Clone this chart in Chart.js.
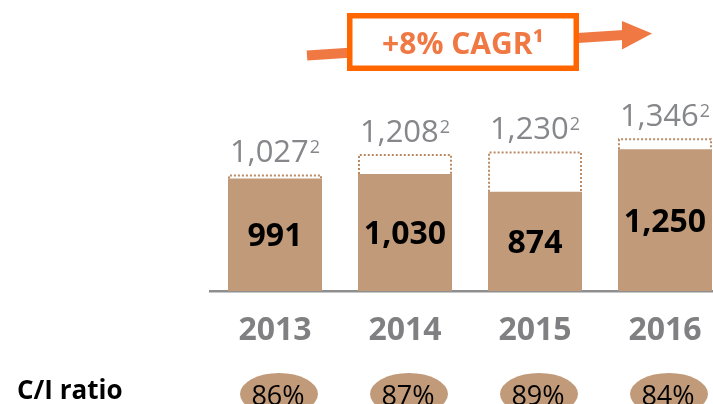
<!DOCTYPE html>
<html><head><meta charset="utf-8">
<script src="https://cdn.jsdelivr.net/npm/chart.js@4"></script>
<style>
html,body{margin:0;padding:0;background:#fff;overflow:hidden;width:713px;height:404px}
#wrap{position:relative;width:730px;height:404px}
</style></head>
<body><div id="wrap"><canvas id="c" width="730" height="404"></canvas></div>
<script>
const years = ['2013', '2014', '2015', '2016'];
const reported = [991, 1030, 874, 1250];
const adjusted = [1027, 1208, 1230, 1346];
const ciRatio = ['86%', '87%', '89%', '84%'];
const ciLabel = 'C/I ratio';
const cagrText = '+8% CAGR¹';
const adjNote = '2';

const FONT = '"Open Sans", sans-serif';
const BAR = '#C19A7A';
const fmt = v => v.toLocaleString('en-US');

const annot = {
  id: 'annot',
  afterDatasetsDraw(chart) {
    const ctx = chart.ctx;
    const m0 = chart.getDatasetMeta(0), m1 = chart.getDatasetMeta(1);
    ctx.save();
    // dotted outlines for adjusted values
    m1.data.forEach((bar, i) => {
      const l = bar.x - bar.width / 2, r = bar.x + bar.width / 2;
      const top = bar.y, bot = m0.data[i].y;
      ctx.setLineDash([2, 2]);
      ctx.lineWidth = 2;
      ctx.strokeStyle = '#B98A64';
      ctx.beginPath();
      ctx.moveTo(l + 1, bot); ctx.lineTo(l + 1, top + 1); ctx.lineTo(r - 1, top + 1); ctx.lineTo(r - 1, bot);
      ctx.stroke();
    });
    ctx.setLineDash([]);
    // values inside bars
    m0.data.forEach((bar, i) => {
      ctx.font = `bold 32px ${FONT}`;
      ctx.fillStyle = '#000';
      ctx.textAlign = 'center';
      ctx.textBaseline = 'alphabetic';
      ctx.fillText(fmt(reported[i]), bar.x, (bar.y + bar.base) / 2 + 11.5);
    });
    // adjusted labels on top
    m1.data.forEach((bar, i) => {
      const main = fmt(adjusted[i]);
      ctx.font = `31px ${FONT}`;
      const w1 = ctx.measureText(main).width;
      ctx.font = `18px ${FONT}`;
      const w2 = ctx.measureText(adjNote).width;
      const x0 = bar.x - (w1 + w2 + 1) / 2;
      const base = bar.y - 12;
      ctx.textAlign = 'left';
      ctx.fillStyle = '#86878A';
      ctx.font = `31px ${FONT}`;
      ctx.fillText(main, x0, base);
      ctx.font = `18px ${FONT}`;
      ctx.fillText(adjNote, x0 + w1 + 1, base - 9);
    });
    // C/I ratio row
    ctx.font = `bold 26px ${FONT}`;
    ctx.fillStyle = '#000';
    ctx.textAlign = 'left';
    ctx.fillText(ciLabel, 17, 399);
    m0.data.forEach((bar, i) => {
      ctx.fillStyle = BAR;
      ctx.beginPath();
      ctx.ellipse(bar.x + 4, 394, 39, 21, 0, 0, Math.PI * 2);
      ctx.fill();
      ctx.fillStyle = '#000';
      ctx.font = `27px ${FONT}`;
      ctx.textAlign = 'center';
      ctx.fillText(ciRatio[i], bar.x + 3, 405);
    });
    // CAGR arrow and box
    ctx.strokeStyle = '#EF7843';
    ctx.fillStyle = '#EF7843';
    ctx.lineWidth = 10;
    ctx.beginPath(); ctx.moveTo(307, 55.5); ctx.lineTo(624, 35); ctx.stroke();
    ctx.beginPath(); ctx.moveTo(622, 21); ctx.lineTo(622, 49.5); ctx.lineTo(652, 33.5); ctx.closePath(); ctx.fill();
    ctx.fillStyle = '#fff';
    ctx.fillRect(347, 13, 232, 58);
    ctx.strokeStyle = '#FF6600';
    ctx.lineWidth = 5.5;
    ctx.strokeRect(349.75, 15.75, 226.5, 52.5);
    ctx.fillStyle = '#EF7843';
    ctx.font = `bold 30px ${FONT}`;
    ctx.textAlign = 'center';
    ctx.fillText(cagrText, 463, 53.5);
    ctx.restore();
  }
};

new Chart(document.getElementById('c'), {
  type: 'bar',
  data: {
    labels: years,
    datasets: [
      { label: 'Reported', data: reported, backgroundColor: BAR, borderWidth: 0, grouped: false, order: 1 },
      { label: 'Adjusted', data: adjusted, backgroundColor: 'rgba(0,0,0,0)', borderWidth: 0, grouped: false, order: 2 }
    ]
  },
  options: {
    responsive: false,
    animation: false,
    devicePixelRatio: 1,
    layout: { padding: { left: 210, right: 0, top: 64, bottom: 33 } },
    datasets: { bar: { barPercentage: 0.723, categoryPercentage: 1 } },
    plugins: { legend: { display: false }, tooltip: { enabled: false } },
    scales: {
      x: {
        grid: { display: false, drawTicks: false },
        border: { display: true, color: '#8F8F8F', width: 2.5 },
        ticks: { color: '#808083', padding: 24, font: { family: FONT, size: 32, weight: 'bold', lineHeight: 1 } }
      },
      y: { display: false, min: 0, max: 2000 }
    }
  },
  plugins: [annot]
});
</script>
</body></html>
